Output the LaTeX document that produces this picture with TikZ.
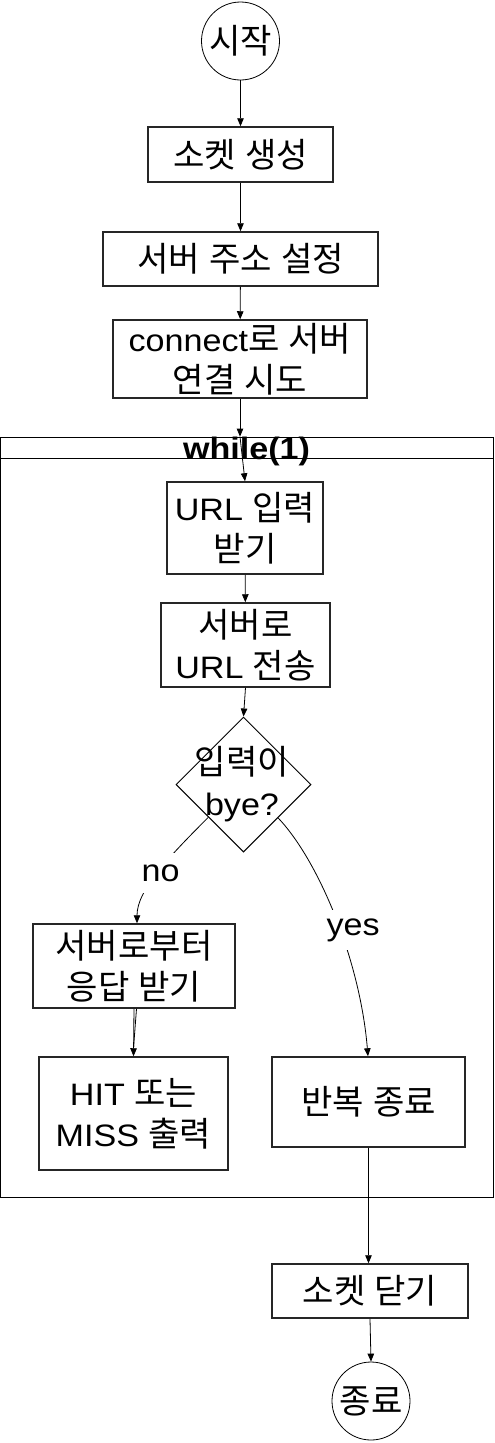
\documentclass[tikz,border=0pt]{standalone}
\usepackage{fontspec}
\setmainfont{Liberation Sans}[FakeStretch=1.1]
\newfontfamily\krfont{Noto Sans CJK KR}[Scale=1.1, WordSpace=1.2]
\newcommand\K[1]{{\krfont #1}}
\usetikzlibrary{shapes.geometric, arrows.meta, calc}
\begin{document}
\begin{tikzpicture}[x=1pt,y=-1pt,
  txt/.style={font=\fontsize{31}{41}\selectfont, align=center, inner sep=0pt},
  proc/.style={txt, draw=black!85, line width=1.5pt, rectangle},
  term/.style={txt, draw, circle, line width=0.8pt, minimum size=78pt},
  arr/.style={-{Triangle[length=8pt,width=6.5pt]}, line width=0.8pt},
  lbl/.style={txt, fill=white, inner sep=2pt, minimum height=40pt},
]
\useasboundingbox (0,0) rectangle (495,1443);
% loop container
\node[draw, line width=0.8pt, minimum width=493pt, minimum height=760pt, inner sep=0pt] (loop) at (247,817) {};
\draw[line width=0.8pt] ($(loop.north west)+(0,22)$) -- ($(loop.north east)+(0,22)$);

\node[term] (start) at (240.5,41) {\K{시작}};
\node[proc, minimum width=185pt, minimum height=55pt] (s1) at (240.5,154.5) {\K{소켓 생성}};
\node[proc, minimum width=275pt, minimum height=54pt] (s2) at (240.5,259) {\K{서버 주소 설정}};
\node[proc, minimum width=254pt, minimum height=78pt] (s3) at (240,359) {connect\K{로 서버}\\\K{연결 시도}};

\node[proc, minimum width=156pt, minimum height=92pt] (u1) at (245,528) {URL \K{입력}\\\K{받기}};
\node[proc, minimum width=169pt, minimum height=84pt] (u2) at (245.5,645) {\K{서버로}\\URL \K{전송}};
\node[draw, diamond, line width=1pt, minimum width=135pt, minimum height=135pt, inner sep=0pt] (d) at (243.5,784.5) {};
\node[txt] (dt) at (242,784) {\K{입력이}\\bye?};

\node[proc, minimum width=202pt, minimum height=84pt] (r1) at (134,966) {\K{서버로부터}\\\K{응답 받기}};
\node[proc, minimum width=189pt, minimum height=113pt] (r3) at (133.5,1113.5) {HIT \K{또는}\\MISS \K{출력}};
\node[proc, minimum width=193pt, minimum height=90pt] (r2) at (368.5,1102) {\K{반복 종료}};

\node[proc, minimum width=196pt, minimum height=54pt] (close) at (370,1291) {\K{소켓 닫기}};
\node[term] (end) at (371,1401) {\K{종료}};

% while label
\node[txt, font=\fontsize{31}{34}\selectfont\bfseries, anchor=base] (wl) at (246.5,459) {while(1)};

% connectors
\draw[arr] (start) -- (s1);
\draw[arr] (s1) -- (s2);
\draw[arr] (s2) -- (s3);
\coordinate (lt) at (s3.south |- loop.north);
\draw[arr] (s3) -- (lt);
\draw[arr] (lt) -- (u1.north);
\draw[arr] (u1) -- (u2);
\draw[arr] (u2.south) -- (d.north);
\draw[arr] (d.223) .. controls +(-40,40) and +(0,-33) .. ([xshift=3pt]r1.north)
  node[lbl, pos=0.5, xshift=3pt] {no};
\draw[arr] (d.316) .. controls +(40,42) and +(-8,-97) .. ([xshift=-0.5pt]r2.north)
  node[lbl, pos=0.5, xshift=18pt, yshift=-14pt] {yes};
\draw[arr] (r1.south) -- (r3.north);
\draw[line width=0.8pt] ([xshift=2.5pt]r1.south) -- ([yshift=8pt]r3.north);
\draw[arr] (r2.south) -- (r2.south |- close.north);
\draw[arr] (close.south) -- (end.north);
\end{tikzpicture}
\end{document}
